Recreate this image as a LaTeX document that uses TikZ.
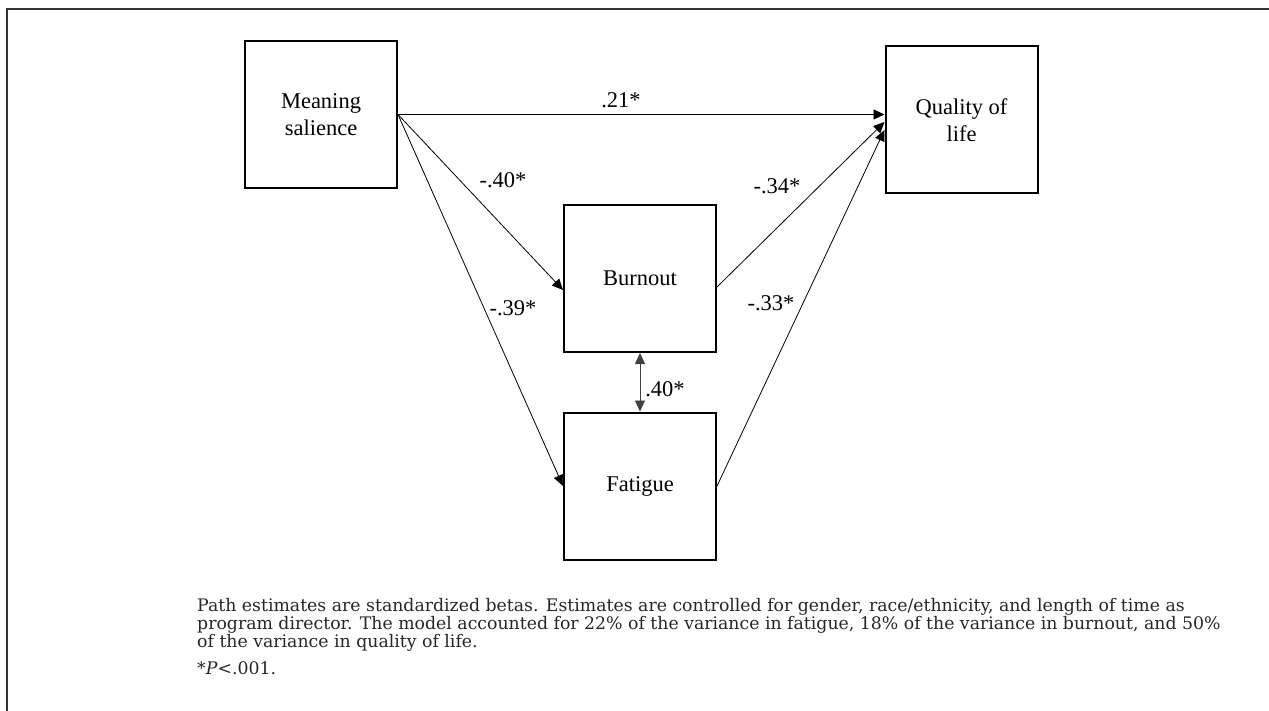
\documentclass[tikz,border=0pt]{standalone}
\usepackage{fontspec}
\setmainfont{Liberation Serif}
\newfontfamily\notefont{DejaVu Serif}
\usetikzlibrary{arrows.meta}

\begin{document}
\begin{tikzpicture}[x=1pt, y=-1pt,
  var/.style={draw, line width=2pt, minimum width=152pt, minimum height=147pt,
    align=center, inner sep=0pt, font=\fontsize{22.5}{27}\selectfont},
  effect/.style={-{Triangle[length=11pt,width=10pt]}, line width=0.8pt},
  coef/.style={inner sep=0pt, font=\fontsize{22.5}{26}\selectfont}]

  \useasboundingbox (0,0) rectangle (1269,711);

  % frame
  \draw[line width=1.2pt, black!80] (1269,9) -- (7,9) -- (7,711);

  % variables
  \node[var] (ms)  at (321,114.5) {Meaning\\salience};
  \node[var] (qol) at (961.5,120) {Quality of\\life};
  \node[var] (bo)  at (640,278.5) {Burnout};
  \node[var] (fa)  at (640,486)   {Fatigue};

  % paths
  \draw[effect] (ms.east) -- (qol.west |- ms.east);
  \draw[effect] (ms.east) -- ([yshift=-11.5pt]bo.west);
  \draw[effect] (ms.east) -- (fa.west);
  \draw[effect] ([yshift=-8.5pt]bo.east) -- ([yshift=-2pt]qol.west);
  \draw[effect] (fa.east) -- ([yshift=-10pt]qol.west);
  \draw[{Triangle[length=11pt,width=10pt]}-{Triangle[length=11pt,width=10pt]},
    line width=0.8pt, black!75] (bo.south) -- (fa.north);

  % coefficients
  \node[coef] (c1) at (621,100) {.21*};
  \node[coef] (c2) at (503,180) {-.40*};
  \node[coef] (c3) at (513,308) {-.39*};
  \node[coef] (c4) at (777,186) {-.34*};
  \node[coef] (c5) at (771,303) {-.33*};
  \node[coef] (c6) at (665,389) {.40*};

  % note
  \node[anchor=north west, align=left, inner sep=0pt, text=black!85,
    font=\notefont\fontsize{17.3}{16}\selectfont] (note) at (197,598)
    {Path estimates are standardized betas. Estimates are controlled for gender, race/ethnicity, and length of time as\\
     program director. The model accounted for 22\% of the variance in fatigue, 18\% of the variance in burnout, and 50\%\\
     of the variance in quality of life.};
  \node[anchor=north west, inner sep=0pt, text=black!85,
    font=\notefont\fontsize{17.3}{16}\selectfont] (sig) at (197,661)
    {*\textit{P}<.001.};

\end{tikzpicture}
\end{document}
